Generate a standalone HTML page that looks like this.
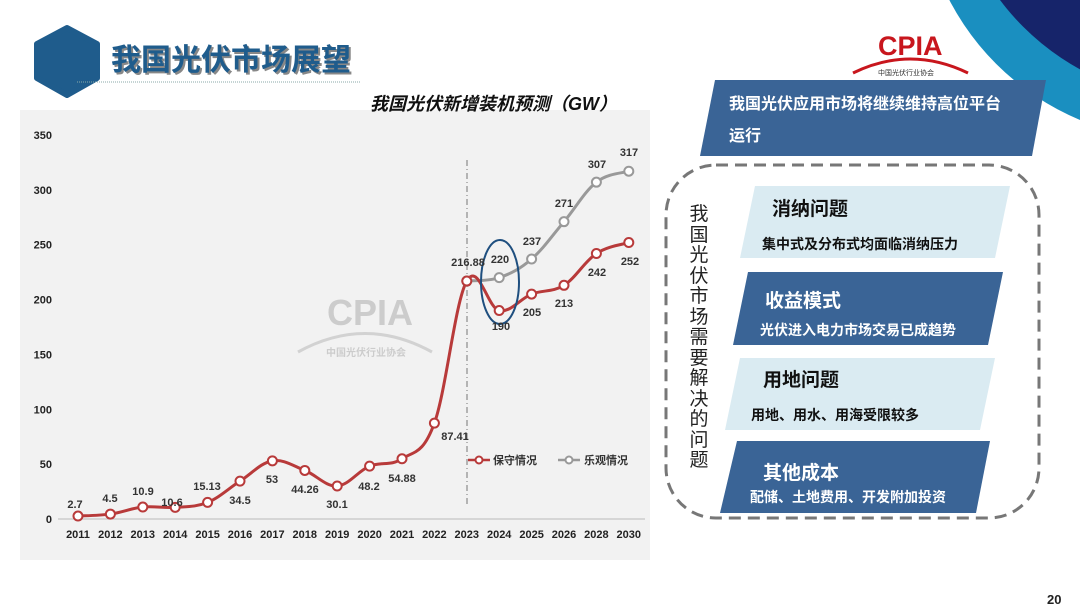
<!DOCTYPE html>
<html><head><meta charset="utf-8"><style>
body{margin:0;width:1080px;height:607px;overflow:hidden;background:#fff;font-family:"Liberation Sans","Noto Sans CJK SC",sans-serif;position:relative}
.abs{position:absolute}
.t{font-weight:bold}
</style></head><body>
<svg class="abs" style="left:0;top:0" width="1080" height="607">
<defs><clipPath id="c"><rect x="0" y="0" width="1080" height="607"/></clipPath></defs>
<circle cx="1180" cy="-120" r="260" fill="#1a8fc0"/>
<circle cx="1200" cy="-150" r="250" fill="#16246a"/>
<rect x="20" y="110" width="630" height="450" fill="#f2f2f2"/>
<polygon points="67,28 97,44 97,78 67,95 37,78 37,44" fill="#1f5c8c" stroke="#1f5c8c" stroke-width="6" stroke-linejoin="round"/>
<line x1="77" y1="82" x2="360" y2="82" stroke="#8aa" stroke-width="1" stroke-dasharray="1,1"/>
<text x="113" y="72" font-size="30" font-weight="bold" fill="#888" font-family="Liberation Sans,Noto Sans CJK SC,sans-serif">我国光伏市场展望</text>
<text x="111" y="70" font-size="30" font-weight="bold" fill="#1f5c8c" font-family="Liberation Sans,Noto Sans CJK SC,sans-serif">我国光伏市场展望</text>
<text x="370" y="110" font-size="18" font-weight="bold" font-style="italic" fill="#111" font-family="Liberation Sans,Noto Sans CJK SC,sans-serif">我国光伏新增装机预测（GW）</text>
<g font-family="Liberation Sans,sans-serif" font-size="11" fill="#222" font-weight="bold" id="ax"></g>
<g id="plot"></g>
<g opacity="0.35" fill="#888" font-family="Liberation Sans,Noto Sans CJK SC,sans-serif" font-weight="bold">
<text x="327" y="325" font-size="36">CPIA</text>
<path d="M298 352 Q365 315 432 352" stroke="#999" stroke-width="3" fill="none"/>
<text x="326" y="356" font-size="10">中国光伏行业协会</text></g>
<!-- CPIA logo -->
<text x="878" y="55" font-size="27" font-weight="bold" fill="#c8161d" font-family="Liberation Sans,sans-serif">CPIA</text>
<path d="M853 73 Q910 45 968 73" stroke="#c8161d" stroke-width="3" fill="none"/>
<text x="878" y="75" font-size="7" fill="#333" font-family="Noto Sans CJK SC,sans-serif">中国光伏行业协会</text>
<polygon points="715,80 1046,80 1032,156 700,156" fill="#3a6496"/>
<text x="729" y="109" font-size="16" font-weight="bold" fill="#fff" font-family="Liberation Sans,Noto Sans CJK SC,sans-serif">我国光伏应用市场将继续维持高位平台</text>
<text x="729" y="141" font-size="16" font-weight="bold" fill="#fff" font-family="Liberation Sans,Noto Sans CJK SC,sans-serif">运行</text>
<rect x="666" y="165" width="373" height="353" rx="50" fill="none" stroke="#777" stroke-width="3" stroke-dasharray="12,7"/>
<polygon points="755,186 1010,186 995,258 740,258" fill="#daebf2"/>
<polygon points="748,272 1003,272 988,345 733,345" fill="#3a6496"/>
<polygon points="740,358 995,358 980,430 725,430" fill="#daebf2"/>
<polygon points="737,441 990,441 976,513 720,513" fill="#3a6496"/>
<g font-family="Liberation Sans,Noto Sans CJK SC,sans-serif" font-weight="bold">
<text x="772" y="215" font-size="19" fill="#111">消纳问题</text>
<text x="762" y="249" font-size="14" fill="#111">集中式及分布式均面临消纳压力</text>
<text x="765" y="307" font-size="19" fill="#fff">收益模式</text>
<text x="760" y="335" font-size="14" fill="#fff">光伏进入电力市场交易已成趋势</text>
<text x="763" y="386" font-size="19" fill="#111">用地问题</text>
<text x="751" y="420" font-size="14" fill="#111">用地、用水、用海受限较多</text>
<text x="763" y="479" font-size="19" fill="#fff">其他成本</text>
<text x="750" y="502" font-size="14" fill="#fff">配储、土地费用、开发附加投资</text>
<text x="1047" y="604" font-size="13" fill="#222">20</text>
</g>
</svg>
<div class="abs" style="left:688px;top:203px;width:22px;font-size:19px;line-height:20.5px;color:#222;font-family:'Noto Sans CJK SC',sans-serif;text-align:center">我国光伏市场需要解决的问题</div>
<script>
const NS="http://www.w3.org/2000/svg";
function el(t,a,p){const e=document.createElementNS(NS,t);for(const k in a)e.setAttribute(k,a[k]);p.appendChild(e);return e}
const ax=document.getElementById('ax'),pl=document.getElementById('plot');
const y0=519,sc=(519-135)/350;
const Y=v=>y0-v*sc;
for(let v=0;v<=350;v+=50){const t=el('text',{x:52,y:Y(v)+4,'text-anchor':'end'},ax);t.textContent=v}
const yrs=[2011,2012,2013,2014,2015,2016,2017,2018,2019,2020,2021,2022,2023,2024,2025,2026,2028,2030];
const X=i=>78+i*32.4;
yrs.forEach((y,i)=>{const t=el('text',{x:X(i),y:538,'text-anchor':'middle'},ax);t.textContent=y});
el('line',{x1:58,y1:519,x2:645,y2:519,stroke:'#bbb'},pl);
el('line',{x1:467,y1:160,x2:467,y2:505,stroke:'#777','stroke-dasharray':'6,3,1,3'},pl);
const red=[2.7,4.5,10.9,10.6,15.13,34.5,53,44.26,30.1,48.2,54.88,87.41,216.88,190,205,213,242,252];
const gray=[216.88,220,237,271,307,317];
function path(pts){let d=`M${pts[0][0]},${pts[0][1]}`;for(let i=0;i<pts.length-1;i++){const p0=pts[i-1]||pts[i],p1=pts[i],p2=pts[i+1],p3=pts[i+2]||p2;const t=0.18*1;d+=` C${p1[0]+(p2[0]-p0[0])*t},${p1[1]+(p2[1]-p0[1])*t} ${p2[0]-(p3[0]-p1[0])*t},${p2[1]-(p3[1]-p1[1])*t} ${p2[0]},${p2[1]}`}return d}
const rp=red.map((v,i)=>[X(i),Y(v)]),gp=gray.map((v,i)=>[X(i+12),Y(v)]);
el('path',{d:path(gp),stroke:'#999','stroke-width':3,fill:'none'},pl);
el('path',{d:path(rp),stroke:'#b83a3a','stroke-width':3,fill:'none'},pl);
gp.forEach(p=>el('circle',{cx:p[0],cy:p[1],r:4.5,fill:'#fff',stroke:'#999','stroke-width':2},pl));
rp.forEach(p=>el('circle',{cx:p[0],cy:p[1],r:4.5,fill:'#fff',stroke:'#b83a3a','stroke-width':2},pl));
el('ellipse',{cx:500,cy:282,rx:19,ry:42,fill:'none',stroke:'#1f4f7f','stroke-width':2},pl);
const labs=[["2.7",75,508],["4.5",110,502],["10.9",143,495],["10.6",172,506],["15.13",207,490],["34.5",240,504],["53",272,483],["44.26",305,493],["30.1",337,508],["48.2",369,490],["54.88",402,482],["87.41",455,440],["216.88",468,266],["220",500,263],["190",501,330],["205",532,316],["213",564,307],["242",597,276],["252",630,265],["237",532,245],["271",564,207],["307",597,168],["317",629,156]];
labs.forEach(l=>{const t=el('text',{x:l[1],y:l[2],'text-anchor':'middle','font-size':11,'font-weight':'bold',fill:'#333','font-family':'Liberation Sans,sans-serif'},pl);t.textContent=l[0]});
el('line',{x1:468,y1:460,x2:490,y2:460,stroke:'#b83a3a','stroke-width':2.5},pl);
el('circle',{cx:479,cy:460,r:3.5,fill:'#fff',stroke:'#b83a3a','stroke-width':2},pl);
el('line',{x1:558,y1:460,x2:580,y2:460,stroke:'#999','stroke-width':2.5},pl);
el('circle',{cx:569,cy:460,r:3.5,fill:'#fff',stroke:'#999','stroke-width':2},pl);
[["保守情况",493],["乐观情况",584]].forEach(a=>{const t=el('text',{x:a[1],y:464,'font-size':11,'font-weight':'bold',fill:'#333','font-family':'Liberation Sans,Noto Sans CJK SC,sans-serif'},pl);t.textContent=a[0]});
</script>
</body></html>
